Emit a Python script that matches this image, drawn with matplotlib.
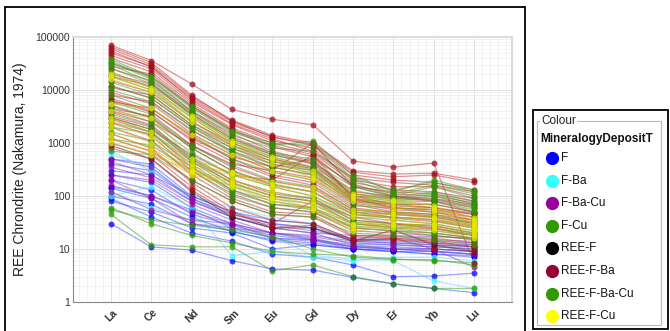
import matplotlib
matplotlib.use("Agg")
import matplotlib.pyplot as plt
from matplotlib.patches import Rectangle
from matplotlib.ticker import LogLocator, MultipleLocator, NullFormatter

plt.rcParams['font.family'] = ['Liberation Sans', 'DejaVu Sans']

elements = ['La', 'Ce', 'Nd', 'Sm', 'Eu', 'Gd', 'Dy', 'Er', 'Yb', 'Lu']
yticks = [1, 10, 100, 1000, 10000, 100000]
ytick_labels = ['1', '10', '100', '1000', '10000', '100000']

legend_names = ['F', 'F-Ba', 'F-Ba-Cu', 'F-Cu', 'REE-F', 'REE-F-Ba',
                'REE-F-Ba-Cu', 'REE-F-Cu']
legend_colours = ['#0000ff', '#33ffff', '#990099', '#339900', '#000000',
                  '#990033', '#339900', '#ffff00']

# chondrite normalised values, one row per sample
f_samples = [
    [500, 400, 100, 50, 35, 30, 15, 14, 13, 12],
    [400, 300, 90, 45, 30, 25, 14, 13, 12, 11],
    [300, 250, 80, 40, 25, 20, 12, 12, 11, 10],
    [250, 180, 60, 30, 20, 16, 11, 11, 10, 9],
    [200, 130, 45, 28, 18, 15, 11, 10, 10, 9],
    [150, 100, 55, 25, 16, 15, 10, 10, 9, 8],
    [140, 90, 40, 21, 15, 13, 10, 9, 8, 7],
    [100, 70, 30, 22, 14, 12, 10, 9, 9, 8],
    [80, 50, 25, 20, 10, 12, 10, 9, 8, 7.5],
    [30, 11, 9.5, 6, 4.2, 4, 2.9, 2.2, 1.8, 1.5],
    [90, 40, 20, 14, 8, 7, 5, 3, 3.1, 3.5],
]
f_ba_samples = [
    [700, 300, 100, 60, 40, 30, 15, 14, 12, 10],
    [600, 350, 80, 45, 30, 25, 13, 12, 11, 10],
    [120, 60, 35, 25, 18, 7.5, 6.5, 6, 2.5, 1.8],
    [100, 150, 60, 7.5, 9, 7, 6, 7, 7, 6],
]
f_ba_cu_samples = [
    [500, 350, 90, 40, 25, 20, 18, 18, 17, 16],
    [450, 250, 100, 50, 30, 25, 15, 15, 14, 13],
    [350, 220, 80, 40, 28, 22, 16, 16, 15, 14],
    [250, 200, 70, 35, 20, 18, 14, 13, 12, 11],
    [200, 90, 30, 25, 20, 15, 12, 10, 10, 4.5],
    [160, 100, 50, 30, 20, 17, 13, 12, 11, 10],
    [120, 55, 35, 30, 16, 14, 11, 10, 9, 8],
]
f_cu_samples = [
    [55, 35, 28, 23, 17, 10, 7, 6.3, 6.3, 5],
    [45, 12, 11, 11, 3.9, 5, 3, 2.2, 1.8, 1.8],
    [60, 30, 18, 13, 9, 8, 7.5, 6.5, 6, 5.5],
]
ree_f_samples = [
    [900, 500, 120, 40, 25, 25, 14, 23, 12, 9],
]
ree_f_ba_samples = [
    [70000, 36000, 13000, 4300, 2800, 2200, 460, 350, 420, 5.5],
    [65000, 33000, 8000, 2600, 1300, 950, 280, 230, 250, 180],
    [60000, 30000, 7500, 2700, 1400, 1000, 300, 260, 270, 200],
    [55000, 27000, 7000, 2500, 1300, 900, 250, 200, 180, 130],
    [50000, 28000, 6500, 2300, 1200, 700, 220, 180, 160, 120],
    [45000, 25000, 6000, 2200, 1100, 800, 200, 150, 150, 100],
    [40000, 22000, 5500, 1900, 1000, 650, 180, 130, 120, 90],
    [32000, 18000, 4800, 1700, 850, 550, 160, 110, 100, 75],
    [28000, 20000, 5000, 1800, 900, 600, 150, 120, 110, 80],
    [25000, 15000, 4000, 1500, 700, 450, 120, 100, 90, 70],
    [20000, 13000, 3800, 1300, 650, 420, 110, 95, 85, 65],
    [18000, 12000, 3500, 1200, 600, 400, 100, 90, 80, 60],
    [15000, 9000, 2500, 1000, 500, 350, 90, 70, 70, 50],
    [12000, 7000, 2000, 800, 400, 300, 80, 60, 55, 45],
    [11000, 8000, 2200, 900, 450, 330, 85, 65, 60, 48],
    [9000, 5500, 1500, 600, 300, 220, 70, 50, 45, 35],
    [8000, 6000, 1700, 700, 350, 250, 75, 55, 50, 40],
    [7000, 4000, 1100, 450, 230, 160, 55, 45, 40, 30],
    [6500, 3800, 1200, 550, 350, 500, 100, 70, 60, 45],
    [6000, 4500, 1300, 500, 250, 180, 60, 48, 42, 32],
    [5000, 3000, 800, 300, 160, 120, 45, 38, 33, 25],
    [4500, 3200, 900, 350, 190, 140, 50, 40, 36, 27],
    [4000, 2500, 900, 400, 300, 1000, 150, 100, 80, 50],
    [3800, 2200, 500, 200, 110, 90, 35, 30, 27, 20],
    [3200, 2000, 450, 180, 100, 80, 30, 26, 24, 18],
    [3000, 1800, 600, 250, 200, 600, 90, 60, 50, 35],
    [2800, 1600, 350, 130, 70, 60, 25, 22, 20, 16],
    [2400, 1400, 300, 110, 60, 50, 22, 20, 18, 15],
    [2000, 1100, 250, 90, 50, 45, 18, 17, 16, 13],
    [1500, 800, 180, 60, 35, 30, 15, 15, 13, 11],
    [1200, 700, 200, 80, 45, 40, 17, 16, 14, 11],
    [1000, 600, 150, 50, 25, 28, 14, 16, 10, 9],
    [800, 500, 130, 45, 30, 80, 40, 30, 25, 18],
]
ree_f_ba_cu_samples = [
    [38000, 18000, 5000, 1700, 1000, 900, 220, 130, 180, 120],
    [35000, 17000, 4500, 1600, 900, 1100, 250, 120, 200, 130],
    [33000, 16000, 4000, 1400, 800, 700, 200, 110, 160, 110],
    [30000, 14000, 3500, 1200, 650, 500, 170, 100, 150, 90],
    [26000, 13000, 3300, 1100, 600, 420, 150, 95, 120, 80],
    [22000, 11000, 3000, 1000, 550, 350, 130, 90, 110, 70],
    [18000, 10000, 2600, 900, 500, 320, 110, 85, 100, 65],
    [14000, 8000, 2200, 800, 450, 300, 100, 80, 90, 60],
    [12000, 7000, 2000, 700, 400, 270, 90, 75, 80, 55],
    [10000, 6000, 1800, 650, 350, 250, 80, 70, 70, 50],
    [8000, 4500, 1400, 500, 280, 200, 65, 60, 55, 40],
    [6000, 3500, 900, 380, 200, 150, 55, 50, 45, 30],
    [5200, 3000, 800, 300, 170, 120, 50, 45, 40, 28],
    [4500, 2500, 650, 250, 150, 100, 45, 40, 35, 25],
    [3500, 2100, 550, 200, 120, 90, 40, 35, 30, 22],
    [3000, 1800, 500, 170, 100, 80, 35, 30, 28, 20],
    [2500, 1600, 450, 150, 90, 70, 32, 28, 25, 19],
    [2000, 1500, 400, 130, 80, 60, 30, 25, 22, 18],
    [1600, 1100, 350, 120, 70, 55, 27, 24, 20, 16],
    [1200, 900, 300, 100, 60, 50, 25, 22, 18, 15],
    [700, 600, 200, 80, 45, 40, 20, 18, 15, 12],
]
ree_f_cu_samples = [
    [20000, 11000, 3200, 1100, 550, 300, 110, 85, 65, 38],
    [18000, 10000, 3000, 1000, 500, 250, 100, 80, 60, 35],
    [16000, 9000, 2500, 900, 400, 220, 90, 70, 55, 30],
    [5500, 4500, 1400, 600, 300, 200, 80, 60, 50, 32],
    [4000, 3000, 500, 280, 180, 150, 55, 50, 40, 28],
    [3000, 1600, 400, 270, 160, 120, 45, 45, 38, 26],
    [2500, 1300, 350, 250, 150, 100, 40, 40, 35, 25],
    [2000, 1000, 300, 200, 120, 80, 30, 35, 30, 22],
    [1500, 800, 280, 180, 100, 70, 28, 30, 28, 20],
    [1200, 700, 250, 160, 90, 60, 25, 28, 25, 18],
    [1000, 600, 300, 150, 80, 55, 22, 25, 23, 16],
]

# drawing order: low groups first so the REE groups sit on top
groups = [
    (f_samples, '#3050ff', '#0000ff'),
    (f_ba_samples, '#60d0ff', '#33ffff'),
    (f_ba_cu_samples, '#9040c0', '#990099'),
    (f_cu_samples, '#3a9a20', '#2e9a0a'),
    (ree_f_samples, '#402020', '#202020'),
    (ree_f_ba_samples, '#c02828', '#a0101e'),
    (ree_f_ba_cu_samples, '#3a9a20', '#2e9a0a'),
    (ree_f_cu_samples, '#d8b000', '#e8e800'),
]

fig = plt.figure(figsize=(6.7, 3.31), dpi=100)
W, H = 670, 331

ax = fig.add_axes([73 / W, 1 - 302 / H, (512 - 73) / W, (302 - 37) / H])
x = list(range(len(elements)))
for samples, line_col, mark_col in groups:
    for row in samples:
        ax.plot(x, row, color=line_col, lw=0.9, alpha=0.5, zorder=2)
        ax.plot(x, row, ls='none', marker='o', ms=4.3, mfc=mark_col,
                mec='none', alpha=0.75, zorder=3)

ax.set_yscale('log')
ax.set_ylim(1, 100000)
ax.set_xlim(-0.94, 9.94)
ax.set_xticks(x)
ax.set_xticklabels(elements, rotation=45, fontsize=7.5, fontweight='bold',
                   color='#333333')
ax.set_yticks(yticks)
ax.set_yticklabels(ytick_labels, fontsize=7.5, color='#333333')
ax.yaxis.set_minor_locator(LogLocator(base=10, subs=range(2, 10)))
ax.yaxis.set_minor_formatter(NullFormatter())
ax.xaxis.set_minor_locator(MultipleLocator(0.2))
ax.tick_params(axis='both', which='both', length=0, pad=2)
ax.tick_params(axis='x', pad=4)
ax.grid(True, which='major', color='#dddddd', lw=0.6, zorder=0)
ax.grid(True, which='minor', color='#eeeeee', lw=0.5, zorder=0)
ax.set_axisbelow(True)
for side in ['top', 'right']:
    ax.spines[side].set_color('#dddddd')
    ax.spines[side].set_linewidth(1.5)
for side in ['left', 'bottom']:
    ax.spines[side].set_color('#888888')
    ax.spines[side].set_linewidth(0.8)
ax.set_ylabel('REE Chrondrite (Nakamura, 1974)', fontsize=10, color='#222222',
              labelpad=6)

# outer chart frame
fig.add_artist(Rectangle((5 / W, -0.02), (525 - 5) / W, 1 - 7 / H + 0.02,
                         transform=fig.transFigure, fill=False,
                         ec='black', lw=1.3))

# legend panel, drawn in pixel coordinates
lax = fig.add_axes([533 / W, 0, (668 - 533) / W, 1 - 110 / H])
lax.set_xlim(533, 668)
lax.set_ylim(H, 110)
lax.axis('off')
lax.add_patch(Rectangle((533, 110), 668 - 533, 219, fill=False, ec='black',
                        lw=1.3, clip_on=False))
lax.add_patch(Rectangle((537, 121), 661 - 537, 204, fill=False, ec='#bbbbbb',
                        lw=0.8, clip_on=False))
lax.text(541, 121, 'Colour', fontsize=8.5, va='center', ha='left',
         color='#222222', bbox=dict(fc='white', ec='none', pad=0.5))
lax.text(540, 139, 'MineralogyDepositT', fontsize=8.5, fontweight='bold',
         va='center', ha='left', color='#111111')
for i, (name, col) in enumerate(zip(legend_names, legend_colours)):
    yy = 158 + i * 22.6
    lax.plot([552], [yy], marker='o', ms=8.5, mfc=col, mec=col, ls='none',
             clip_on=False)
    lax.text(561, yy, name, fontsize=8.5, va='center', ha='left',
             color='#111111')

fig.savefig('out.png', dpi=100)
